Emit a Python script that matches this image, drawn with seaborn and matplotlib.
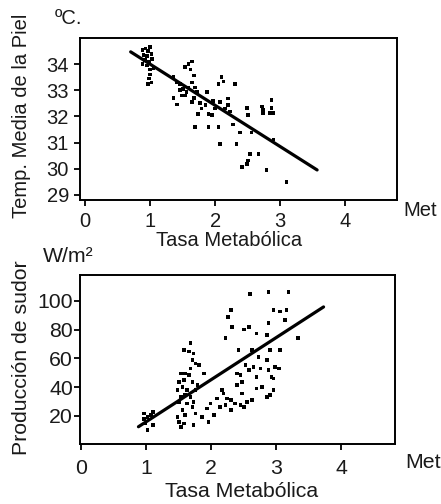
import numpy as np
import pandas as pd
import matplotlib
matplotlib.use("Agg")
import matplotlib.pyplot as plt
import seaborn as sns

# ---- Top panel: mean skin temperature vs metabolic rate ----
temp_met = [0.88, 0.93, 0.97, 1.00, 0.90, 0.95, 1.02, 0.92, 0.98, 1.03, 0.88, 0.95, 1.00, 1.05, 1.00, 0.98, 1.02, 0.97,
            1.36, 1.41, 1.36, 1.41, 1.46, 1.51, 1.49, 1.56, 1.54, 1.59, 1.64, 1.62, 1.67, 1.64, 1.69, 1.72, 1.67, 1.64,
            1.77, 1.79, 1.74, 1.69, 1.59, 1.54, 1.46,
            1.87, 1.85, 1.90, 1.97, 2.00, 1.95, 1.90, 2.05, 2.08, 2.15, 2.20, 2.08, 2.05, 2.10, 2.13, 2.20, 2.23,
            2.31, 2.28, 2.33, 2.38, 2.41, 2.49, 2.51, 2.49, 2.51,
            2.54, 2.56, 2.67, 2.72, 2.74, 2.74, 2.87, 2.87, 2.90, 2.85, 2.90, 2.79, 3.10]
temp_skin = [34.55, 34.60, 34.50, 34.65, 34.35, 34.30, 34.40, 34.15, 34.10, 34.20, 34.00, 33.95, 33.80, 33.85, 33.60, 33.45, 33.30, 33.25,
             33.50, 33.30, 32.70, 32.45, 33.25, 33.06, 32.80, 32.94, 33.88, 34.00, 34.10, 33.80, 33.56, 33.30, 33.10, 32.94, 32.70, 32.56,
             32.50, 32.30, 32.10, 31.60, 33.10, 32.80, 33.00,
             32.94, 32.44, 32.10, 32.60, 32.30, 32.06, 31.60, 31.60, 32.56, 32.30, 32.44, 30.94, 33.25, 33.50, 33.34, 32.69, 32.19,
             33.25, 31.69, 30.94, 31.38, 30.06, 30.19, 30.31, 32.31, 32.06,
             30.56, 31.38, 30.56, 32.38, 32.25, 32.12, 32.62, 32.31, 32.12, 32.12, 31.12, 29.94, 29.50]
temp_fit_x = [0.70, 3.57]
temp_fit_y = [34.47, 29.95]

# ---- Bottom panel: sweat production vs metabolic rate ----
sweat_met = [0.97, 1.02, 1.07, 0.99, 1.02, 1.10, 0.97, 1.10,
             1.48, 1.50, 1.53, 1.58, 1.60, 1.56, 1.50, 1.53, 1.48, 1.56, 1.50, 1.58, 1.53, 1.60, 1.58, 1.66, 1.68,
             1.71, 1.73, 1.76, 1.68, 1.66, 1.71, 1.63, 1.68, 1.76, 1.79, 1.73, 1.71, 1.76, 1.73, 1.63, 1.81, 1.60,
             1.86, 1.96, 1.94, 1.99, 2.04, 1.89, 2.09, 2.17, 2.19, 2.22, 2.24, 2.14,
             2.22, 2.26, 2.30, 2.32, 2.30, 2.30, 2.37, 2.40, 2.42, 2.45, 2.47, 2.40, 2.45, 2.47,
             2.50, 2.58, 2.60, 2.53, 2.58, 2.63, 2.65, 2.70, 2.70, 2.73, 2.76, 2.63, 2.70, 2.55, 2.50, 2.78,
             2.88, 2.88, 2.86, 2.91, 2.96, 2.86, 2.88, 2.93, 2.96, 2.86, 2.91, 2.98, 3.04, 3.06, 3.06, 3.14, 3.16,
             3.19, 3.34, 2.96]
sweat_rate = [21.6, 19.3, 20.5, 14.7, 10.0, 13.5, 18.1, 22.8,
              19.3, 15.8, 12.3, 14.7, 20.5, 24.0, 29.8, 33.3, 37.9, 40.2, 43.7, 44.9, 49.5, 49.5, 65.8, 64.7, 70.5,
              58.8, 63.5, 56.5, 53.0, 48.4, 43.7, 37.9, 33.3, 37.9, 41.4, 29.8, 26.3, 21.6, 13.5, 28.6, 55.3, 34.4,
              19.3, 15.8, 25.1, 28.6, 20.5, 49.5, 32.1, 37.9, 35.6, 27.4, 32.1, 26.3,
              74.0, 89.0, 93.7, 82.0, 31.0, 24.0, 28.6, 41.4, 65.8, 48.4, 43.7, 49.5, 27.4, 35.6,
              80.0, 82.0, 105.0, 55.3, 51.9, 65.8, 54.2, 47.2, 77.4, 61.2, 53.0, 31.0, 39.0, 29.8, 26.3, 40.2,
              106.0, 84.4, 76.3, 65.8, 93.7, 58.8, 51.9, 47.2, 37.9, 33.3, 34.4, 54.2, 53.0, 65.8, 92.6, 86.8, 93.7,
              106.0, 74.0, 46.0]
sweat_fit_x = [0.88, 3.73]
sweat_fit_y = [12.5, 95.8]

x_ticks = [0, 1, 2, 3, 4]
temp_ticks = [29, 30, 31, 32, 33, 34]
sweat_ticks = [20, 40, 60, 80, 100]

sns.set_theme(style="white")
plt.rcParams['font.family'] = ['Liberation Sans', 'DejaVu Sans']
FS1 = 14.5
FS2 = 15.3
TXT = "#1a1a1a"

fig = plt.figure(figsize=(4.41, 5.04), dpi=100)
ax1 = fig.add_axes([80 / 441, 1 - 200 / 504, (397 - 80) / 441, (200 - 38) / 504])
ax2 = fig.add_axes([80 / 441, 1 - 444 / 504, (395 - 80) / 441, (444 - 275) / 504])

df_t = pd.DataFrame({"x": temp_met, "y": temp_skin})
df_s = pd.DataFrame({"x": sweat_met, "y": sweat_rate})

sns.scatterplot(data=df_t, x="x", y="y", ax=ax1, marker="s", s=7, color="black",
                edgecolor="none", linewidth=0)
sns.lineplot(x=temp_fit_x, y=temp_fit_y, ax=ax1, color="black", linewidth=2.3)
sns.scatterplot(data=df_s, x="x", y="y", ax=ax2, marker="s", s=7, color="black",
                edgecolor="none", linewidth=0)
sns.lineplot(x=sweat_fit_x, y=sweat_fit_y, ax=ax2, color="black", linewidth=2.3)

ax1.set_xlim(-0.08, 4.8)
ax1.set_ylim(28.8, 35.0)
ax2.set_xlim(-0.02, 4.83)
ax2.set_ylim(0.5, 118)

ax1.set_yticks(temp_ticks)
ax2.set_yticks(sweat_ticks)
for ax, fs in ((ax1, FS1), (ax2, FS2)):
    ax.set_xticks(x_ticks)
    for sp in ax.spines.values():
        sp.set_visible(True)
        sp.set_color("black")
        sp.set_linewidth(1.4)
    ax.tick_params(axis="both", which="major", direction="out", length=4, width=1.3,
                   color="black", labelsize=fs, labelcolor=TXT,
                   left=True, bottom=True, right=False, top=False)
    ax.set_xlabel("Tasa Metabólica", fontsize=fs, color=TXT, va="center")

ax1.tick_params(axis="x", pad=5)
ax1.tick_params(axis="y", pad=4)
ax2.tick_params(axis="x", pad=7)
ax2.tick_params(axis="y", pad=1)

ax1.set_ylabel("Temp. Media de la Piel", fontsize=FS1, color=TXT, va="center")
ax2.set_ylabel("Producción de sudor", fontsize=FS2, color=TXT, va="center")

ax1.xaxis.set_label_coords(0.470, -0.247)
ax1.yaxis.set_label_coords(-0.186, 0.519)
ax2.xaxis.set_label_coords(0.514, -0.282)
ax2.yaxis.set_label_coords(-0.187, 0.509)

fig.text(55 / 441, 1 - 19 / 504, "ºC.", fontsize=FS1, color=TXT, ha="left", va="center")
fig.text(403 / 441, 1 - 210 / 504, "Met", fontsize=FS1, color=TXT, ha="left", va="center")
fig.text(43 / 441, 1 - 257 / 504, "W/m²", fontsize=FS2, color=TXT, ha="left", va="center")
fig.text(405 / 441, 1 - 463 / 504, "Met", fontsize=FS2, color=TXT, ha="left", va="center")

fig.savefig("out.png", dpi=100)
